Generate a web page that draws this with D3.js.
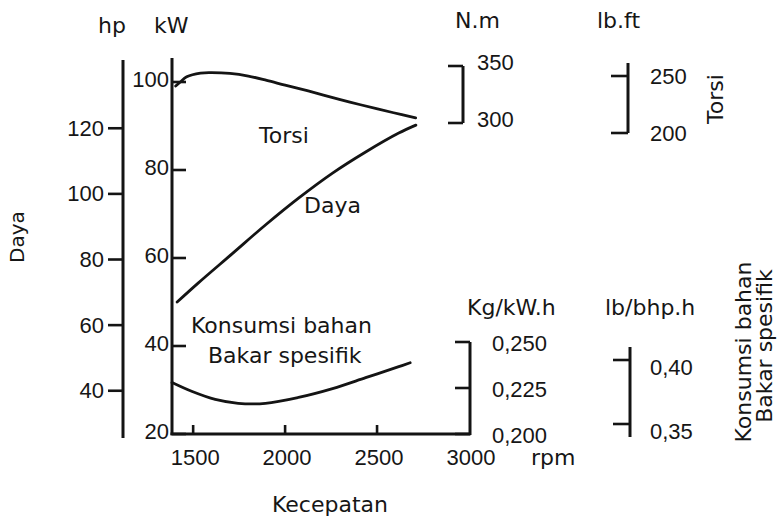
<!DOCTYPE html>
<html>
<head>
<meta charset="utf-8">
<script src="https://cdn.jsdelivr.net/npm/d3@7"></script>
<style>
  html, body { margin: 0; padding: 0; background: #ffffff; }
  svg { display: block; }
  .word { font-family: "DejaVu Sans", sans-serif; font-size: 22px; fill: #161616; }
  .num  { font-family: "Liberation Sans", Arial, sans-serif; font-size: 22px; fill: #161616; }
</style>
</head>
<body>
<svg id="chart" width="777" height="518"></svg>
<script>
// Engine performance curves: torque, power and specific fuel consumption vs speed.
const rpmTicks  = [1500, 2000, 2500, 3000];
const kwTicks   = [20, 40, 60, 80, 100];
const hpTicks   = [40, 60, 80, 100, 120];
const nmTicks   = [300, 350];
const lbftTicks = [200, 250];
const kgTicks   = [0.200, 0.225, 0.250];
const lbTicks   = [0.35, 0.40];

// Torsi (N.m)
const torqueRpm = [1405, 1430, 1465, 1540, 1600, 1700, 1800, 1900, 2000, 2140, 2300, 2410, 2590, 2710];
const torqueNm  = [332.5, 336, 340.5, 343.8, 344.2, 343.5, 341.2, 337.4, 333.2, 327.5, 320.5, 316, 309, 304.5];

// Daya (kW)
const powerRpm = [1413, 1527, 1713, 1893, 2073, 2258, 2438, 2618, 2711];
const powerKw  = [50.0, 54.3, 61.0, 67.5, 73.6, 79.3, 84.1, 88.4, 90.2];

// Konsumsi bahan bakar spesifik (kg/kW.h)
const sfcRpm = [1385, 1495, 1620, 1745, 1893, 2073, 2258, 2438, 2618, 2680];
const sfcKg  = [0.2280, 0.2231, 0.2188, 0.2167, 0.2167, 0.2199, 0.2247, 0.2306, 0.2366, 0.2387];

const HP_PER_KW = 1.341;

const svg = d3.select("#chart");

// scales
const x    = d3.scaleLinear([1385, 3000], [172, 469]);
const kw   = d3.scaleLinear([20, 100], [434, 82]);
const hp   = d3.scaleLinear([20 * HP_PER_KW, 100 * HP_PER_KW], [434, 82]);
const nm   = d3.scaleLinear([300, 350], [123, 66]);
const lbft = d3.scaleLinear([200, 250], [133, 76]);
const kg   = d3.scaleLinear([0.200, 0.250], [434, 342]);
const lbb  = d3.scaleLinear([0.35, 0.40], [424, 360]);

const ink = "#141414";
const fmtComma = (d, n) => d.toFixed(n).replace(".", ",");

// generic vertical scale bar: a spine, ticks pointing left or right, and labels
function bar(opt) {
  const g = svg.append("g");
  g.append("line")
    .attr("x1", opt.x).attr("x2", opt.x)
    .attr("y1", opt.y0).attr("y2", opt.y1)
    .attr("stroke", ink).attr("stroke-width", 3);
  g.selectAll("line.tick").data(opt.ticks).join("line")
    .attr("class", "tick")
    .attr("x1", opt.x).attr("x2", opt.x + opt.tickLen)
    .attr("y1", d => opt.scale(d)).attr("y2", d => opt.scale(d))
    .attr("stroke", ink).attr("stroke-width", 2.6);
  g.selectAll("text").data(opt.ticks).join("text")
    .attr("class", "num")
    .attr("x", opt.labelX)
    .attr("y", d => opt.scale(d) + (opt.dy || 0))
    .attr("text-anchor", opt.anchor)
    .attr("dominant-baseline", "central")
    .text(opt.format);
}

// left power scales
bar({ scale: hp, ticks: hpTicks, x: 123, y0: 60, y1: 438, tickLen: -15,
      labelX: 104, anchor: "end", format: d => d });
bar({ scale: kw, ticks: kwTicks, x: 172, y0: 58, y1: 435, tickLen: 14,
      labelX: 169, anchor: "end", dy: -3, format: d => d });

// torque scales
bar({ scale: nm, ticks: nmTicks, x: 463, y0: nm(350), y1: nm(300), tickLen: -15,
      labelX: 477, anchor: "start", dy: -4, format: d => d });
bar({ scale: lbft, ticks: lbftTicks, x: 628, y0: 63, y1: lbft(200), tickLen: -17,
      labelX: 650, anchor: "start", format: d => d });

// fuel consumption scales
bar({ scale: kg, ticks: kgTicks, x: 470, y0: kg(0.250), y1: kg(0.200) + 1, tickLen: -15,
      labelX: 492, anchor: "start", dy: 1, format: d => fmtComma(d, 3) });
bar({ scale: lbb, ticks: lbTicks, x: 630, y0: 347, y1: 437, tickLen: -17,
      labelX: 650, anchor: "start", dy: 7, format: d => fmtComma(d, 2) });

// speed axis
const gx = svg.append("g");
gx.append("line")
  .attr("x1", x.range()[0] - 1.5).attr("x2", x(3000) + 1.5)
  .attr("y1", kw(20)).attr("y2", kw(20))
  .attr("stroke", ink).attr("stroke-width", 3);
gx.selectAll("line.tick").data(rpmTicks.slice(0, -1)).join("line")
  .attr("class", "tick")
  .attr("x1", d => x(d)).attr("x2", d => x(d))
  .attr("y1", kw(20)).attr("y2", kw(20) - 9)
  .attr("stroke", ink).attr("stroke-width", 2.6);
gx.selectAll("text").data(rpmTicks).join("text")
  .attr("class", "num")
  .attr("x", d => x(d) + 2)
  .attr("y", 465)
  .attr("text-anchor", "middle")
  .text(d => d);

// curves
const curve = d3.curveCatmullRom.alpha(0.5);
function plot(rpm, vals, yScale) {
  const pts = rpm.map((r, i) => [x(r), yScale(vals[i])]);
  svg.append("path")
    .attr("d", d3.line().curve(curve)(pts))
    .attr("fill", "none")
    .attr("stroke", ink)
    .attr("stroke-width", 2.8)
    .attr("stroke-linejoin", "round")
    .attr("stroke-linecap", "round");
}
plot(torqueRpm, torqueNm, nm);
plot(powerRpm, powerKw, kw);
plot(sfcRpm, sfcKg, kg);

// text labels
function word(txt, px, py, anchor, rot) {
  const t = svg.append("text").attr("class", "word").text(txt)
    .attr("text-anchor", anchor || "start");
  if (rot) {
    t.attr("transform", `translate(${px},${py}) rotate(-90)`);
  } else {
    t.attr("x", px).attr("y", py);
  }
  return t;
}

// unit headers
word("hp", 98, 33);
word("kW", 154, 33);
word("N.m", 455, 28);
word("lb.ft", 597, 28);
word("Kg/kW.h", 467, 315);
word("lb/bhp.h", 605, 315);
word("rpm", 531, 465);

// curve names inside the plot
word("Torsi", 259, 143);
word("Daya", 304, 213);
word("Konsumsi bahan", 191, 333);
word("Bakar spesifik", 208, 363);

// axis titles
word("Kecepatan", 330, 512, "middle");
word("Daya", 24, 237, "middle", true).style("font-size", "20px");
word("Torsi", 723, 99, "middle", true);
word("Konsumsi bahan", 751, 352, "middle", true);
word("Bakar spesifik", 772, 346, "middle", true);
</script>
</body>
</html>
